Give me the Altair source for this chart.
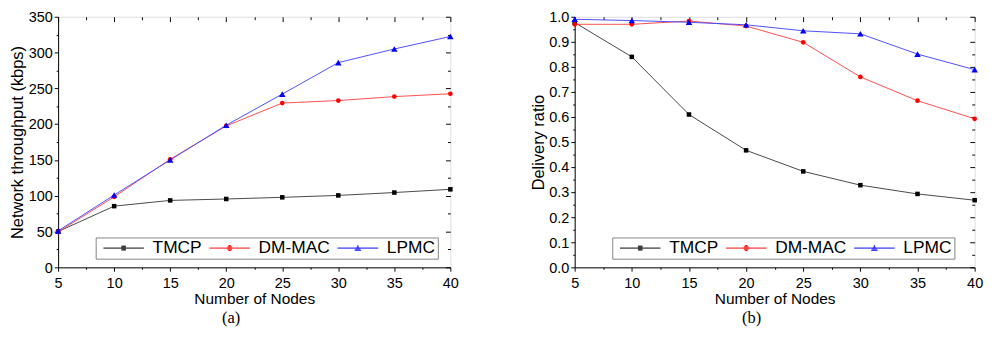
import altair as alt
import pandas as pd

# ---------------- data ----------------
nodes = [5, 10, 15, 20, 25, 30, 35, 40]
series_names = ["TMCP", "DM-MAC", "LPMC"]

thr_tmcp = [50, 85.5, 93.5, 95.5, 97.8, 100.5, 104.5, 109]
thr_dmmac = [49.5, 98.5, 151, 197.5, 229.5, 233, 238.5, 242.5]
thr_lpmc = [51, 101, 150, 198.5, 242, 286, 305, 322.5]

dr_tmcp = [0.977, 0.840, 0.610, 0.467, 0.383, 0.328, 0.293, 0.268]
dr_dmmac = [0.970, 0.970, 0.983, 0.963, 0.898, 0.760, 0.665, 0.593]
dr_lpmc = [0.990, 0.985, 0.978, 0.968, 0.944, 0.932, 0.851, 0.789]

x_major = [5, 10, 15, 20, 25, 30, 35, 40]
x_minor = [7.5, 12.5, 17.5, 22.5, 27.5, 32.5, 37.5]
thr_major = [0, 50, 100, 150, 200, 250, 300, 350]
thr_minor = [25, 75, 125, 175, 225, 275, 325]
dr_major = [0.0, 0.1, 0.2, 0.3, 0.4, 0.5, 0.6, 0.7, 0.8, 0.9, 1.0]
dr_minor = [0.05, 0.15, 0.25, 0.35, 0.45, 0.55, 0.65, 0.75, 0.85, 0.95]

marker_colors = ["#000000", "#ff0000", "#0000ff"]
line_colors = ["#444444", "#ff4a4a", "#4a4aff"]
marker_shapes = ["square", "circle", "triangle-up"]
marker_sizes = [22, 24, 45]
# legend glyphs: a line with the marker drawn in strokes
legend_paths = [
    "M-4.2,0H4.2M-0.47,-0.4H0.47M-0.47,-0.2H0.47M-0.47,0.2H0.47M-0.47,0.4H0.47",
    "M-4.2,0H4.2M-0.5,-0.2H0.5M-0.5,0.2H0.5M-0.36,-0.4H0.36M-0.36,0.4H0.36"
    "M-0.2,-0.52H0.2M-0.2,0.52H0.2",
    "M-4.2,0H4.2M-0.68,0.45H0.68M-0.51,0.2H0.51M-0.25,-0.2H0.25M-0.13,-0.4H0.13"
    "M-0.05,-0.55H0.05",
]

FONT = "Liberation Sans"


def make_df(values_by_series):
    rows = []
    for s, vals in zip(series_names, values_by_series):
        for n, v in zip(nodes, vals):
            rows.append({"nodes": n, "series": s, "value": v})
    return pd.DataFrame(rows)


def panel(df, ydomain, ymajor, yminor, yfmt, ytitle, label, W, H):
    xscale = alt.Scale(domain=[5, 40], nice=False, zero=False)
    yscale = alt.Scale(domain=ydomain, nice=False, zero=False)
    base = alt.Chart(df)

    common = dict(grid=False, tickColor="black", domainColor="black",
                  labelColor="black", titleColor="black")

    x_bottom = alt.Axis(orient="bottom", values=x_major, tickSize=4, format="d",
                        labelFont=FONT, labelFontSize=15, labelPadding=5,
                        labelFlush=False, labelOverlap=False,
                        title="Number of Nodes", titleFont=FONT, titleFontSize=16,
                        titleFontWeight="normal", titlePadding=1, domain=True, **common)
    y_left = alt.Axis(orient="left", values=ymajor, tickSize=4, format=yfmt,
                      labelFont=FONT, labelFontSize=15, labelPadding=2,
                      labelFlush=False, labelOverlap=False,
                      title=ytitle, titleFont=FONT, titleFontSize=17,
                      titleFontWeight="normal", titlePadding=2, domain=True, **common)
    x_bottom_minor = alt.Axis(orient="bottom", values=x_minor, tickSize=2, labels=False,
                              domain=False, title=None, **common)
    y_left_minor = alt.Axis(orient="left", values=yminor, tickSize=2, labels=False,
                            domain=False, title=None, **common)
    x_top = alt.Axis(orient="top", values=x_major, tickSize=5, labels=False,
                     domain=False, title=None, offset=-5, **common)
    y_right = alt.Axis(orient="right", values=ymajor, tickSize=5, labels=False,
                       domain=False, title=None, offset=-5, **common)
    x_top_minor = alt.Axis(orient="top", values=x_minor, tickSize=3, labels=False,
                           domain=False, title=None, offset=-3, **common)
    y_right_minor = alt.Axis(orient="right", values=yminor, tickSize=3, labels=False,
                             domain=False, title=None, offset=-3, **common)

    stroke_scale = alt.Scale(domain=series_names, range=line_colors)
    fill_scale = alt.Scale(domain=series_names, range=marker_colors)
    legend_color_scale = alt.Scale(domain=series_names, range=marker_colors)

    lines = base.mark_line(strokeWidth=1).encode(
        x=alt.X("nodes:Q", scale=xscale, axis=x_bottom),
        y=alt.Y("value:Q", scale=yscale, axis=y_left),
        stroke=alt.Stroke("series:N", scale=stroke_scale, legend=None),
    )

    axes_pairs = [(x_bottom_minor, y_left_minor), (x_top, y_right), (x_top_minor, y_right_minor)]
    point_layers = []
    for name, shp, sz, (ax_x, ax_y) in zip(series_names, marker_shapes, marker_sizes, axes_pairs):
        point_layers.append(
            base.transform_filter(alt.datum.series == name)
            .mark_point(shape=shp, filled=True, size=sz, opacity=1, strokeWidth=0)
            .encode(
                x=alt.X("nodes:Q", scale=xscale, axis=ax_x),
                y=alt.Y("value:Q", scale=yscale, axis=ax_y),
                fill=alt.Fill("series:N", scale=fill_scale, legend=None),
            )
        )

    leg = alt.Legend(orient="none", legendX=39, legendY=H - 31, direction="horizontal",
                     labelFont=FONT, labelFontSize=18, labelColor="black",
                     symbolSize=100, symbolStrokeWidth=1, symbolOffset=18, labelOffset=21,
                     symbolOpacity=1, columnPadding=2, padding=2,
                     strokeColor="#808080", fillColor="white")

    legend_layer = base.mark_point(
        filled=False, size=100, strokeWidth=1, opacity=0
    ).encode(
        x=alt.X("nodes:Q", scale=xscale, axis=None),
        y=alt.Y("value:Q", scale=yscale, axis=None),
        shape=alt.Shape("series:N", scale=alt.Scale(domain=series_names, range=legend_paths),
                        legend=leg, title=""),
        color=alt.Color("series:N", scale=legend_color_scale, legend=leg, title=""),
    )

    return alt.layer(legend_layer, lines, *point_layers).resolve_axis(
        x="independent", y="independent"
    ).properties(
        width=W, height=H,
        title=alt.TitleParams(label, orient="bottom", font="Liberation Serif", fontSize=17,
                              fontWeight="normal", color="black", offset=4, dx=-24),
    )


left = panel(make_df([thr_tmcp, thr_dmmac, thr_lpmc]), [0, 350], thr_major, thr_minor, "d",
             "Network throughput (kbps)", "(a)", 407, 260)
right = panel(make_df([dr_tmcp, dr_dmmac, dr_lpmc]), [0, 1], dr_major, dr_minor, ".1f",
              "Delivery ratio", "(b)", 415, 260)

chart = alt.hconcat(left, right, spacing=59).resolve_scale(
    shape="independent", color="independent", stroke="independent", fill="independent"
).resolve_legend(
    shape="independent", color="independent"
).properties(
    padding={"left": 0, "top": -5, "right": -4, "bottom": 0}
).configure_view(stroke="black", strokeWidth=1).configure(background="white")

chart.save("out.html", embed_options={"renderer": "svg", "actions": False})
